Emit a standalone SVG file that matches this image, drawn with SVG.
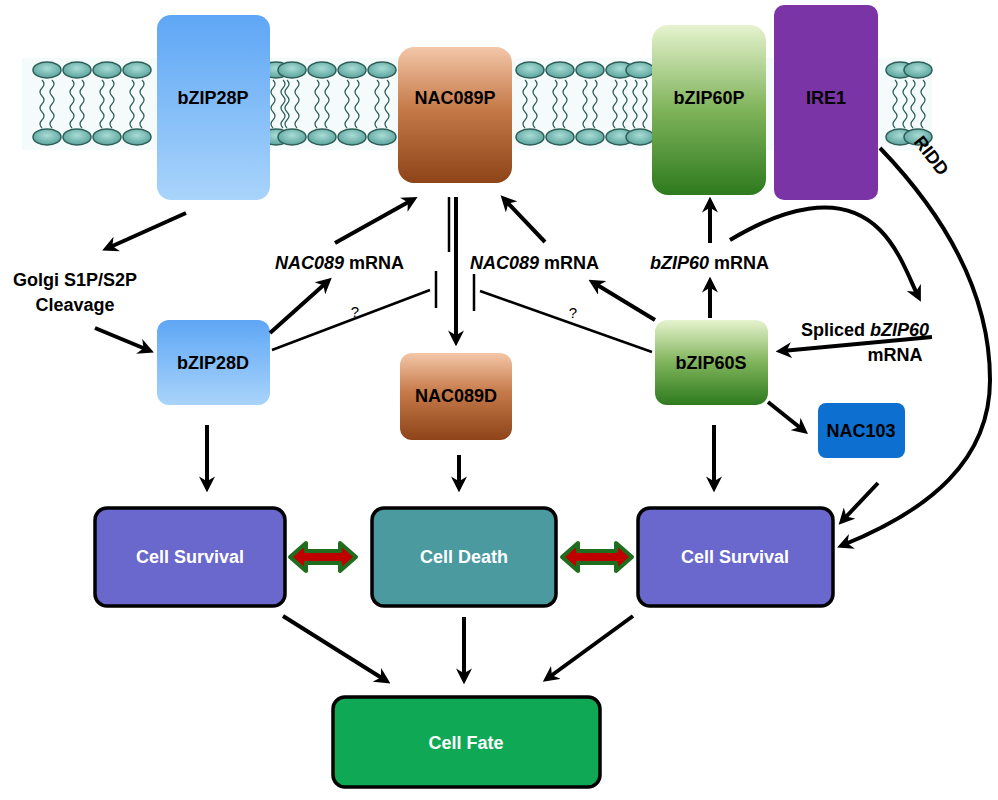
<svg xmlns="http://www.w3.org/2000/svg" width="998" height="800" viewBox="0 0 998 800">
<defs>
<linearGradient id="gb" x1="0" y1="0" x2="0" y2="1"><stop offset="0" stop-color="#5ea6f5"/><stop offset="1" stop-color="#a9d4fb"/></linearGradient>
<linearGradient id="gn" x1="0" y1="0" x2="0" y2="1"><stop offset="0" stop-color="#f3c7a8"/><stop offset="0.45" stop-color="#c67a4a"/><stop offset="1" stop-color="#8e4418"/></linearGradient>
<linearGradient id="gg" x1="0" y1="0" x2="0" y2="1"><stop offset="0" stop-color="#e6f3cf"/><stop offset="0.5" stop-color="#7fb35a"/><stop offset="1" stop-color="#2e7a1e"/></linearGradient>
<radialGradient id="gh" cx="0.5" cy="0.4" r="0.6"><stop offset="0" stop-color="#a9dcd6"/><stop offset="1" stop-color="#5aa39c"/></radialGradient>
<marker id="ah" viewBox="0 0 10 10" refX="6" refY="5" markerWidth="4" markerHeight="4" orient="auto"><path d="M0,0 L10,5 L0,10 L3,5 z" fill="#000"/></marker>
<g id="lip"><ellipse cx="0" cy="0" rx="14" ry="8" fill="url(#gh)" stroke="#2e5e58" stroke-width="1.5"/></g>
<g id="tail"><path d="M-5,10 q4,4 0,8 q-4,4 0,8 q4,4 0,8 q-4,4 0,8 q4,4 0,8 q-4,4 0,8" fill="none" stroke="#2e5e58" stroke-width="1.2"/><path d="M5,10 q4,4 0,8 q-4,4 0,8 q4,4 0,8 q-4,4 0,8 q4,4 0,8 q-4,4 0,8" fill="none" stroke="#2e5e58" stroke-width="1.2"/></g>
</defs>
<style>
.t{font-family:"Liberation Sans",Arial,sans-serif;font-weight:bold;font-size:18px;fill:#000}
.w{font-family:"Liberation Sans",Arial,sans-serif;font-weight:bold;font-size:18px;fill:#fff}
.a{fill:none;stroke:#000;stroke-width:4;marker-end:url(#ah)}
.l{fill:none;stroke:#000;stroke-width:2.5}
.box{stroke:#000;stroke-width:3.5}
</style>
<g id="membrane">
<rect x="22" y="58" width="910" height="92" fill="#f4fbfa"/>
<g id="heads">
<use href="#lip" x="47" y="70"/><use href="#tail" x="47" y="70"/><use href="#lip" x="47" y="137"/>
<use href="#lip" x="77" y="70"/><use href="#tail" x="77" y="70"/><use href="#lip" x="77" y="137"/>
<use href="#lip" x="107" y="70"/><use href="#tail" x="107" y="70"/><use href="#lip" x="107" y="137"/>
<use href="#lip" x="137" y="70"/><use href="#tail" x="137" y="70"/><use href="#lip" x="137" y="137"/>
<use href="#lip" x="276" y="70"/><use href="#tail" x="278" y="70"/><use href="#lip" x="276" y="137"/>
<use href="#lip" x="292" y="70"/><use href="#tail" x="292" y="70"/><use href="#lip" x="292" y="137"/>
<use href="#lip" x="322" y="70"/><use href="#tail" x="322" y="70"/><use href="#lip" x="322" y="137"/>
<use href="#lip" x="352" y="70"/><use href="#tail" x="352" y="70"/><use href="#lip" x="352" y="137"/>
<use href="#lip" x="382" y="70"/><use href="#tail" x="382" y="70"/><use href="#lip" x="382" y="137"/>
<use href="#lip" x="530" y="70"/><use href="#tail" x="530" y="70"/><use href="#lip" x="530" y="137"/>
<use href="#lip" x="560" y="70"/><use href="#tail" x="560" y="70"/><use href="#lip" x="560" y="137"/>
<use href="#lip" x="590" y="70"/><use href="#tail" x="590" y="70"/><use href="#lip" x="590" y="137"/>
<use href="#lip" x="620" y="70"/><use href="#tail" x="620" y="70"/><use href="#lip" x="620" y="137"/>
<use href="#lip" x="640" y="70"/><use href="#tail" x="640" y="70"/><use href="#lip" x="640" y="137"/>
<use href="#lip" x="900" y="70"/><use href="#tail" x="900" y="70"/><use href="#lip" x="900" y="137"/>
<use href="#lip" x="918" y="70"/><use href="#tail" x="918" y="70"/><use href="#lip" x="918" y="137"/>
</g>
</g>
<g id="bZIP28P"><rect x="157" y="15" width="113" height="185" rx="14" fill="url(#gb)"/><text class="t" x="213" y="104" text-anchor="middle">bZIP28P</text></g>
<g id="NAC089P"><rect x="398" y="47" width="114" height="136" rx="16" fill="url(#gn)"/><text class="t" x="455" y="104" text-anchor="middle">NAC089P</text></g>
<g id="bZIP60P"><rect x="652" y="25" width="114" height="170" rx="16" fill="url(#gg)"/><text class="t" x="709" y="104" text-anchor="middle">bZIP60P</text></g>
<g id="IRE1"><rect x="774" y="5" width="104" height="195" rx="10" fill="#7a34a6"/><text class="t" x="826" y="104" text-anchor="middle">IRE1</text></g>
<g id="bZIP28D"><rect x="157" y="320" width="113" height="85" rx="12" fill="url(#gb)"/><text class="t" x="213" y="369" text-anchor="middle">bZIP28D</text></g>
<g id="NAC089D"><rect x="400" y="353" width="112" height="87" rx="12" fill="url(#gn)"/><text class="t" x="456" y="402" text-anchor="middle">NAC089D</text></g>
<g id="bZIP60S"><rect x="655" y="320" width="113" height="85" rx="12" fill="url(#gg)"/><text class="t" x="711" y="369" text-anchor="middle">bZIP60S</text></g>
<g id="NAC103"><rect x="818" y="403" width="87" height="55" rx="8" fill="#0d6fcf"/><text class="t" x="861" y="437" text-anchor="middle">NAC103</text></g>
<g id="survivalL"><rect class="box" x="95" y="508" width="190" height="98" rx="12" fill="#6a68cc"/><text class="w" x="190" y="563" text-anchor="middle">Cell Survival</text></g>
<g id="death"><rect class="box" x="372" y="508" width="184" height="98" rx="12" fill="#4a9aa0"/><text class="w" x="464" y="563" text-anchor="middle">Cell Death</text></g>
<g id="survivalR"><rect class="box" x="638" y="508" width="195" height="98" rx="12" fill="#6a68cc"/><text class="w" x="735" y="563" text-anchor="middle">Cell Survival</text></g>
<g id="fate"><rect class="box" x="333" y="697" width="267" height="90" rx="12" fill="#0fa955"/><text class="w" x="466" y="749" text-anchor="middle">Cell Fate</text></g>
<g id="labels">
<text class="t" x="75" y="286" text-anchor="middle">Golgi S1P/S2P</text>
<text class="t" x="75" y="311" text-anchor="middle">Cleavage</text>
<text class="t" x="275" y="269"><tspan font-style="italic">NAC089</tspan> mRNA</text>
<text class="t" x="470" y="269"><tspan font-style="italic">NAC089</tspan> mRNA</text>
<text class="t" x="650" y="269"><tspan font-style="italic">bZIP60</tspan> mRNA</text>
<text class="t" x="865" y="336" text-anchor="middle">Spliced <tspan font-style="italic">bZIP60</tspan></text>
<text class="t" x="895" y="361" text-anchor="middle">mRNA</text>
<text class="t" x="0" y="0" transform="translate(913,142) rotate(52)">RIDD</text>
<text x="355" y="317" font-family="Liberation Sans,Arial,sans-serif" font-size="15" text-anchor="middle">?</text>
<text x="573" y="318" font-family="Liberation Sans,Arial,sans-serif" font-size="15" text-anchor="middle">?</text>
</g>
<g id="connectors">
<path class="a" d="M186,213 L108,248"/>
<path class="a" d="M95,328 L148,350"/>
<path class="a" d="M270,333 L327,282"/>
<path class="a" d="M335,243 L412,200"/>
<path class="a" d="M545,242 L505,200"/>
<path class="a" d="M655,320 L594,283"/>
<path class="a" d="M710,243 L710,203"/>
<path class="a" d="M710,318 L710,283"/>
<path class="a" d="M730,240 C780,210 840,190 880,230 C900,250 910,280 918,296"/>
<path class="a" d="M932,337 L782,351"/>
<path class="a" d="M880,148 C930,200 990,280 990,380 C990,460 930,510 843,545"/>
<path class="a" d="M768,402 L803,430"/>
<path class="a" d="M878,483 L843,520"/>
<path class="a" d="M456,197 L456,340"/>
<path class="l" d="M449,197 L449,252"/>
<path class="l" d="M272,350 L430,290 M436,271 L436,308"/>
<path class="l" d="M652,352 L480,291 M474,274 L474,311"/>
<path class="a" d="M207,425 L207,486"/>
<path class="a" d="M459,455 L459,486"/>
<path class="a" d="M714,425 L714,486"/>
<path class="a" d="M283,616 L385,680"/>
<path class="a" d="M464,617 L464,678"/>
<path class="a" d="M633,616 L548,678"/>
<path d="M290,557 L306,543 L306,551 L340,551 L340,543 L356,557 L340,571 L340,563 L306,563 L306,571 Z" fill="#c00000" stroke="#1e6e1e" stroke-width="4" stroke-linejoin="round"/>
<path d="M562,557 L578,543 L578,551 L616,551 L616,543 L632,557 L616,571 L616,563 L578,563 L578,571 Z" fill="#c00000" stroke="#1e6e1e" stroke-width="4" stroke-linejoin="round"/>
</g>
</svg>
